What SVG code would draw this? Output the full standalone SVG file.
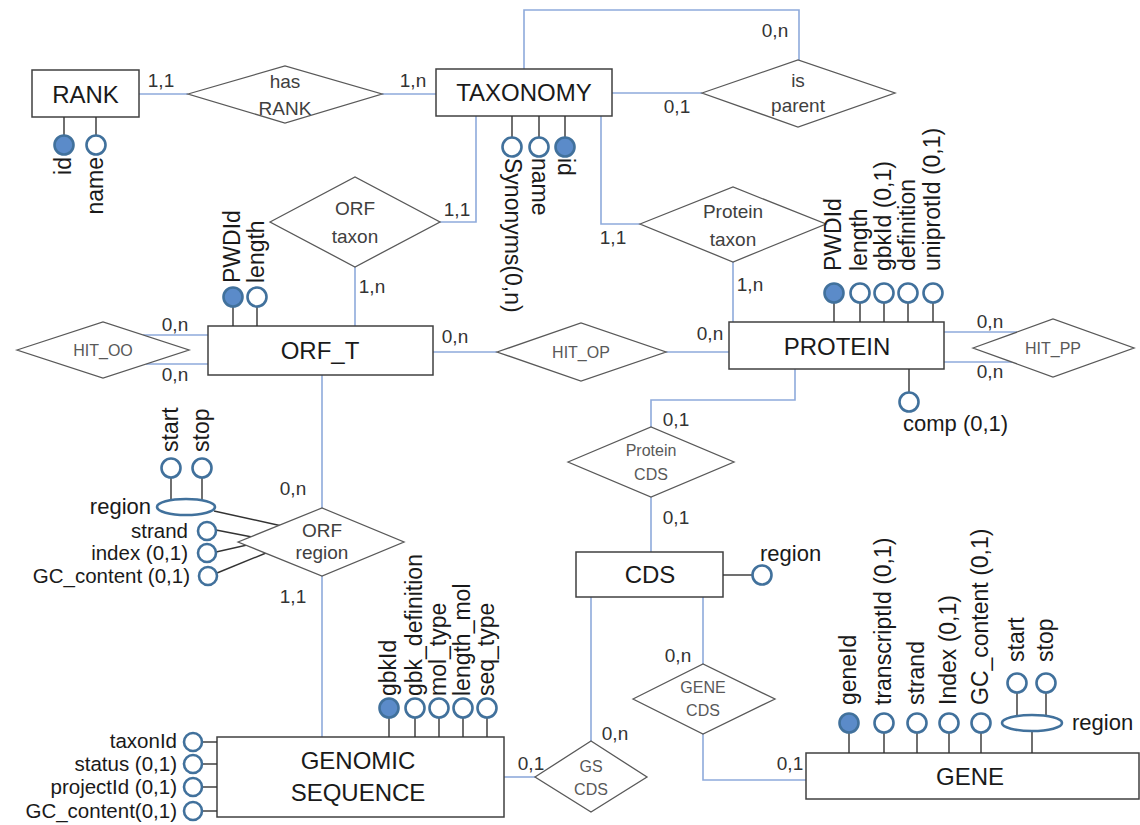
<svg xmlns="http://www.w3.org/2000/svg" width="1140" height="825" viewBox="0 0 1140 825">
<style>
text{font-family:"Liberation Sans",Arial,sans-serif}
.ent{fill:#fff;stroke:#404040;stroke-width:1.5}
.rel{fill:#fff;stroke:#595959;stroke-width:1.3}
.conn{fill:none;stroke:#8eaadb;stroke-width:1.6}
.al{fill:none;stroke:#333;stroke-width:1.4}
.att{fill:#fff;stroke:#41719c;stroke-width:2.6}
.key{fill:#5b8bc9;stroke:#41719c;stroke-width:2.6}
.et{font-size:24px;fill:#1a1a1a;text-anchor:middle}
.rt{font-size:19px;fill:#404040;text-anchor:middle}
.ht{font-size:16px;fill:#595959;text-anchor:middle}
.ct{font-size:19px;fill:#333;text-anchor:middle}
.lb{font-size:22px;fill:#1a1a1a}
.sl{font-size:20.5px;fill:#1a1a1a;text-anchor:end}
.vl{font-size:23px;fill:#1a1a1a}
.end{text-anchor:end}
</style>

<g id="connectors">
<line class="conn" x1="139" y1="94" x2="188" y2="94"/>
<line class="conn" x1="382" y1="94" x2="436" y2="94"/>
<polyline class="conn" points="524,69 524,10 799,10 799,60"/>
<line class="conn" x1="612" y1="93" x2="702" y2="93"/>
<polyline class="conn" points="440,222 476,222 476,116"/>
<line class="conn" x1="355" y1="267" x2="355" y2="326"/>
<polyline class="conn" points="601,116 601,224 640,224"/>
<line class="conn" x1="733" y1="262" x2="733" y2="322"/>
<line class="conn" x1="143" y1="335" x2="208" y2="335"/>
<line class="conn" x1="146" y1="364" x2="208" y2="364"/>
<line class="conn" x1="433" y1="352" x2="497" y2="352"/>
<line class="conn" x1="666" y1="352" x2="729" y2="352"/>
<line class="conn" x1="944" y1="332" x2="1017" y2="332"/>
<line class="conn" x1="944" y1="362" x2="1012" y2="362"/>
<polyline class="conn" points="795,369 795,400 651,400 651,427"/>
<line class="conn" x1="651" y1="497" x2="651" y2="552"/>
<line class="conn" x1="591" y1="597" x2="591" y2="741"/>
<line class="conn" x1="504" y1="777" x2="535" y2="777"/>
<line class="conn" x1="703" y1="597" x2="703" y2="664"/>
<polyline class="conn" points="703,734 703,780 806,780"/>
<line class="conn" x1="322" y1="375" x2="322" y2="508"/>
<line class="conn" x1="322" y1="576" x2="322" y2="737"/>
</g>

<g id="cardinalities">
<text class="ct" x="161" y="87">1,1</text>
<text class="ct" x="413" y="87">1,n</text>
<text class="ct" x="775" y="37">0,n</text>
<text class="ct" x="677" y="113">0,1</text>
<text class="ct" x="457" y="216">1,1</text>
<text class="ct" x="372" y="293">1,n</text>
<text class="ct" x="613" y="244">1,1</text>
<text class="ct" x="750" y="291">1,n</text>
<text class="ct" x="175" y="331">0,n</text>
<text class="ct" x="175" y="381">0,n</text>
<text class="ct" x="455" y="343">0,n</text>
<text class="ct" x="710" y="340">0,n</text>
<text class="ct" x="990" y="328">0,n</text>
<text class="ct" x="990" y="378">0,n</text>
<text class="ct" x="676" y="426">0,1</text>
<text class="ct" x="676" y="524">0,1</text>
<text class="ct" x="615" y="740">0,n</text>
<text class="ct" x="531" y="770">0,1</text>
<text class="ct" x="678" y="662">0,n</text>
<text class="ct" x="790" y="770">0,1</text>
<text class="ct" x="293" y="495">0,n</text>
<text class="ct" x="293" y="603">1,1</text>
</g>

<g id="RANK">
<rect class="ent" x="32" y="70" width="107" height="47"/>
<text class="et" x="85.5" y="103">RANK</text>
<line class="al" x1="64" y1="117" x2="64" y2="135"/>
<line class="al" x1="96" y1="117" x2="96" y2="135"/>
<circle class="key" cx="64" cy="145" r="9.5"/>
<circle class="att" cx="96" cy="145" r="9.5"/>
<text class="vl end" transform="translate(71,157) rotate(-90)">id</text>
<text class="vl end" transform="translate(103,157) rotate(-90)">name</text>
</g>

<g id="hasRANK">
<polygon class="rel" points="188,94 285,66 382,94 285,123"/>
<text class="rt" x="285" y="88">has</text>
<text class="rt" x="285" y="115">RANK</text>
</g>

<g id="TAXONOMY">
<rect class="ent" x="436" y="69" width="176" height="47"/>
<text class="et" x="524" y="101">TAXONOMY</text>
<line class="al" x1="512" y1="116" x2="512" y2="137"/>
<line class="al" x1="539" y1="116" x2="539" y2="137"/>
<line class="al" x1="565" y1="116" x2="565" y2="137"/>
<circle class="att" cx="512" cy="147" r="9.5"/>
<circle class="att" cx="539" cy="147" r="9.5"/>
<circle class="key" cx="565" cy="147" r="9.5"/>
<text class="vl" transform="translate(505,158) rotate(90)">Synonyms(0,n)</text>
<text class="vl" transform="translate(532,158) rotate(90)">name</text>
<text class="vl" transform="translate(558,158) rotate(90)">id</text>
</g>

<g id="isParent">
<polygon class="rel" points="702,93 798,60 895,93 798,127"/>
<text class="rt" x="798" y="87">is</text>
<text class="rt" x="798" y="112">parent</text>
</g>

<g id="ORFtaxon">
<polygon class="rel" points="270,222 355,177 440,222 355,267"/>
<text class="rt" x="355" y="215">ORF</text>
<text class="rt" x="355" y="243">taxon</text>
</g>

<g id="ProteinTaxon">
<polygon class="rel" points="640,224 733,187 826,224 733,262"/>
<text class="rt" x="733" y="218">Protein</text>
<text class="rt" x="733" y="246">taxon</text>
</g>

<g id="ORF_T">
<rect class="ent" x="208" y="326" width="225" height="49"/>
<text class="et" x="320" y="359">ORF_T</text>
<line class="al" x1="233" y1="306" x2="233" y2="326"/>
<line class="al" x1="257" y1="306" x2="257" y2="326"/>
<circle class="key" cx="233" cy="297" r="9.5"/>
<circle class="att" cx="257" cy="297" r="9.5"/>
<text class="vl" transform="translate(240,283) rotate(-90)">PWDId</text>
<text class="vl" transform="translate(264,283) rotate(-90)">length</text>
</g>

<g id="HIT_OO">
<polygon class="rel" points="17,350 103,322 189,350 103,378"/>
<text class="ht" x="103" y="356">HIT_OO</text>
</g>

<g id="HIT_OP">
<polygon class="rel" points="497,352 581,323 666,352 581,381"/>
<text class="ht" x="581" y="358">HIT_OP</text>
</g>

<g id="PROTEIN">
<rect class="ent" x="729" y="322" width="215" height="47"/>
<text class="et" x="837" y="355">PROTEIN</text>
<line class="al" x1="834" y1="302" x2="834" y2="322"/>
<line class="al" x1="860" y1="302" x2="860" y2="322"/>
<line class="al" x1="884" y1="302" x2="884" y2="322"/>
<line class="al" x1="908" y1="302" x2="908" y2="322"/>
<line class="al" x1="933" y1="302" x2="933" y2="322"/>
<circle class="key" cx="834" cy="293" r="9.5"/>
<circle class="att" cx="860" cy="293" r="9.5"/>
<circle class="att" cx="884" cy="293" r="9.5"/>
<circle class="att" cx="908" cy="293" r="9.5"/>
<circle class="att" cx="933" cy="293" r="9.5"/>
<text class="vl" transform="translate(841,271) rotate(-90)">PWDId</text>
<text class="vl" transform="translate(867,271) rotate(-90)">length</text>
<text class="vl" transform="translate(891,271) rotate(-90)">gbkId (0,1)</text>
<text class="vl" transform="translate(915,271) rotate(-90)">definition</text>
<text class="vl" transform="translate(940,271) rotate(-90)">uniprotId (0,1)</text>
<line class="al" x1="909" y1="369" x2="909" y2="392"/>
<circle class="att" cx="909" cy="402" r="9.5"/>
<text class="lb" x="903" y="431">comp (0,1)</text>
</g>

<g id="HIT_PP">
<polygon class="rel" points="973,348 1053,319 1134,348 1053,377"/>
<text class="ht" x="1053" y="354">HIT_PP</text>
</g>

<g id="ProteinCDS">
<polygon class="rel" points="568,462 651,427 734,462 651,497"/>
<text class="ht" x="651" y="456">Protein</text>
<text class="ht" x="651" y="480">CDS</text>
</g>

<g id="CDS">
<rect class="ent" x="576" y="552" width="147" height="45"/>
<text class="et" x="650" y="583">CDS</text>
<line class="al" x1="723" y1="575" x2="752" y2="575"/>
<circle class="att" cx="762" cy="575" r="9.5"/>
<text class="lb" x="760" y="561">region</text>
</g>

<g id="GSCDS">
<polygon class="rel" points="535,777 591,741 647,777 591,812"/>
<text class="ht" x="591" y="772">GS</text>
<text class="ht" x="591" y="795">CDS</text>
</g>

<g id="GENECDS">
<polygon class="rel" points="633,699 703,664 775,699 703,734"/>
<text class="ht" x="703" y="693">GENE</text>
<text class="ht" x="703" y="716">CDS</text>
</g>

<g id="GENE">
<rect class="ent" x="806" y="753" width="333" height="46"/>
<text class="et" x="970" y="785">GENE</text>
<line class="al" x1="849" y1="732" x2="849" y2="753"/>
<line class="al" x1="884" y1="732" x2="884" y2="753"/>
<line class="al" x1="917" y1="732" x2="917" y2="753"/>
<line class="al" x1="949" y1="732" x2="949" y2="753"/>
<line class="al" x1="981" y1="732" x2="981" y2="753"/>
<line class="al" x1="1032" y1="731" x2="1032" y2="753"/>
<circle class="key" cx="849" cy="723" r="9.5"/>
<circle class="att" cx="884" cy="723" r="9.5"/>
<circle class="att" cx="917" cy="723" r="9.5"/>
<circle class="att" cx="949" cy="723" r="9.5"/>
<circle class="att" cx="981" cy="723" r="9.5"/>
<line class="al" x1="1017" y1="692" x2="1017" y2="715"/>
<line class="al" x1="1046" y1="692" x2="1046" y2="715"/>
<ellipse class="att" cx="1032" cy="723" rx="30" ry="8"/>
<circle class="att" cx="1017" cy="683" r="9.5"/>
<circle class="att" cx="1046" cy="683" r="9.5"/>
<text class="lb" x="1072" y="730">region</text>
<text class="vl" transform="translate(856,705) rotate(-90)">geneId</text>
<text class="vl" transform="translate(891,705) rotate(-90)">transcriptId (0,1)</text>
<text class="vl" transform="translate(924,705) rotate(-90)">strand</text>
<text class="vl" transform="translate(956,705) rotate(-90)">Index (0,1)</text>
<text class="vl" transform="translate(988,705) rotate(-90)">GC_content (0,1)</text>
<text class="vl" transform="translate(1024,662) rotate(-90)">start</text>
<text class="vl" transform="translate(1053,662) rotate(-90)">stop</text>
</g>

<g id="GENOMIC_SEQUENCE">
<rect class="ent" x="217" y="737" width="287" height="80"/>
<text class="et" x="358" y="769">GENOMIC</text>
<text class="et" x="358" y="801">SEQUENCE</text>
<line class="al" x1="389" y1="717" x2="389" y2="737"/>
<line class="al" x1="415" y1="717" x2="415" y2="737"/>
<line class="al" x1="439" y1="717" x2="439" y2="737"/>
<line class="al" x1="463" y1="717" x2="463" y2="737"/>
<line class="al" x1="487" y1="717" x2="487" y2="737"/>
<circle class="key" cx="389" cy="708" r="9.5"/>
<circle class="att" cx="415" cy="708" r="9.5"/>
<circle class="att" cx="439" cy="708" r="9.5"/>
<circle class="att" cx="463" cy="708" r="9.5"/>
<circle class="att" cx="487" cy="708" r="9.5"/>
<text class="vl" transform="translate(396,696) rotate(-90)">gbkId</text>
<text class="vl" transform="translate(422,696) rotate(-90)">gbk_definition</text>
<text class="vl" transform="translate(446,696) rotate(-90)">mol_type</text>
<text class="vl" transform="translate(470,696) rotate(-90)">length_mol</text>
<text class="vl" transform="translate(494,696) rotate(-90)">seq_type</text>
<line class="al" x1="203" y1="742" x2="217" y2="742"/>
<line class="al" x1="203" y1="764" x2="217" y2="764"/>
<line class="al" x1="203" y1="787" x2="217" y2="787"/>
<line class="al" x1="203" y1="811" x2="217" y2="811"/>
<circle class="att" cx="193" cy="742" r="9"/>
<circle class="att" cx="193" cy="764" r="9"/>
<circle class="att" cx="193" cy="787" r="9"/>
<circle class="att" cx="193" cy="811" r="9"/>
<text class="sl" x="177" y="748">taxonId</text>
<text class="sl" x="177" y="771">status (0,1)</text>
<text class="sl" x="177" y="794">projectId (0,1)</text>
<text class="sl" x="177" y="818">GC_content(0,1)</text>
</g>

<g id="ORFregion">
<line class="al" x1="214" y1="511" x2="282" y2="526"/>
<line class="al" x1="216" y1="530" x2="252" y2="537"/>
<line class="al" x1="216" y1="552" x2="265" y2="541"/>
<line class="al" x1="217" y1="573" x2="266" y2="553"/>
<polygon class="rel" points="238,542 322,508 404,542 322,576"/>
<text class="rt" x="322" y="537">ORF</text>
<text class="rt" x="322" y="559">region</text>
<line class="al" x1="171" y1="477" x2="171" y2="500"/>
<line class="al" x1="202" y1="477" x2="202" y2="500"/>
<circle class="att" cx="171" cy="468" r="9.5"/>
<circle class="att" cx="202" cy="468" r="9.5"/>
<ellipse class="att" cx="186" cy="507" rx="29" ry="8"/>
<text class="vl" transform="translate(178,452) rotate(-90)">start</text>
<text class="vl" transform="translate(209,452) rotate(-90)">stop</text>
<text class="lb end" x="151" y="514">region</text>
<circle class="att" cx="207" cy="531" r="9"/>
<circle class="att" cx="207" cy="553" r="9"/>
<circle class="att" cx="208" cy="576" r="9"/>
<text class="sl" x="188" y="538">strand</text>
<text class="sl" x="188" y="560">index (0,1)</text>
<text class="sl" x="190" y="583">GC_content (0,1)</text>
</g>
</svg>
